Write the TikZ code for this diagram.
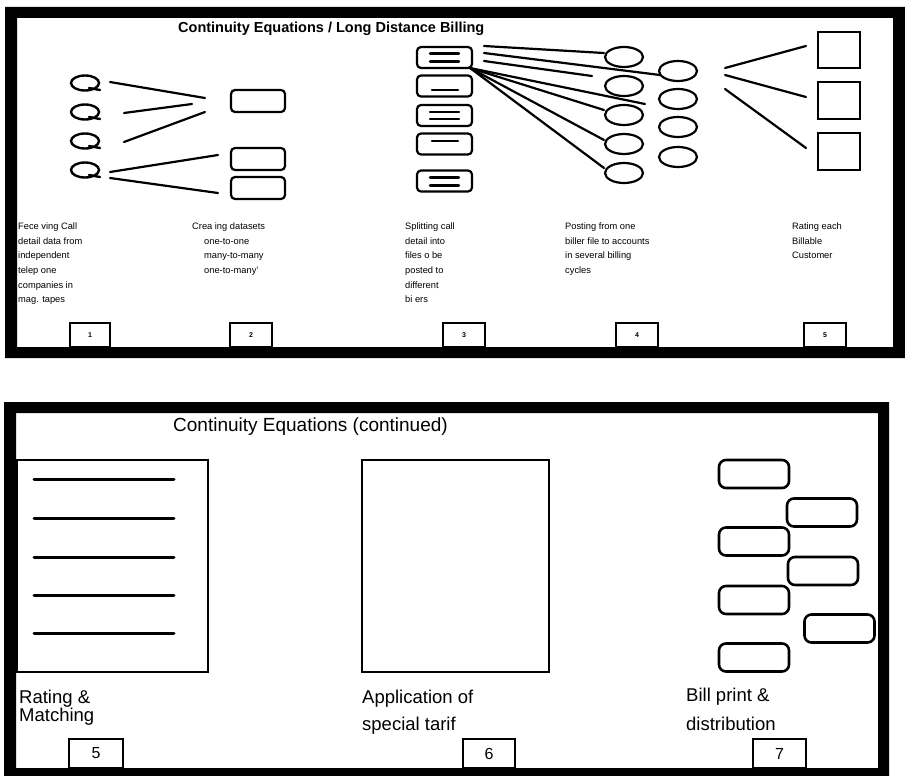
\documentclass[tikz,border=0pt]{standalone}
\usepackage{fontspec}
\setmainfont{Liberation Sans}
\usetikzlibrary{shapes.geometric}
\begin{document}
\begin{tikzpicture}[x=1pt,y=-1pt,
  lab/.style={font=\fontsize{9.3}{11}\selectfont, inner sep=0, anchor=base west},
  big/.style={font=\fontsize{18.5}{20}\selectfont, inner sep=0, anchor=base west},
  ln/.style={line width=2.2pt, line cap=round},
  thk/.style={line width=3pt, line cap=round},
  rbox/.style={draw, line width=2.2pt, rounded corners=4pt, minimum width=54pt, minimum height=22pt, inner sep=0},
  rbig/.style={draw, line width=2.6pt, rounded corners=7pt, minimum width=70pt, minimum height=28pt, inner sep=0},
  oval/.style={draw, ellipse, line width=2.2pt, minimum width=38pt, minimum height=20pt, inner sep=0},
  qov/.style={draw, ellipse, line width=2.4pt, minimum width=28pt, minimum height=15pt, inner sep=0},
  sq/.style={draw, line width=2pt, minimum width=42pt, minimum height=36pt, inner sep=0},
  numA/.style={draw, fill=white, line width=1.8pt, minimum height=24pt, inner sep=0, font=\fontsize{7}{8}\selectfont\bfseries},
  numB/.style={draw, fill=white, line width=2.2pt, minimum height=29pt, inner sep=0, font=\fontsize{16}{18}\selectfont},
  panelbox/.style={draw, line width=2.6pt, inner sep=0}
]
\useasboundingbox (0,0) rectangle (905,776);
\fill[white] (0,0) rectangle (905,776);

% ---------- top panel frame ----------
\fill[black, even odd rule] (5,7) rectangle (905,358) (17,18) rectangle (893,347);
\node[font=\fontsize{14.5}{16}\selectfont\bfseries, inner sep=0, anchor=base west] (t1) at (178,32.5) {Continuity Equations / Long Distance Billing};

% Q shapes
\foreach \y [count=\i] in {83,112,141,170} {
  \node[qov] (q\i) at (85,\y) {};
  \draw[line width=2.4pt, line cap=round] (89,\y+5) -- (100,\y+7);
}
% boxes stage 2
\node[rbox] (d1) at (258,101) {};
\node[rbox] (d2) at (258,159) {};
\node[rbox] (d3) at (258,188) {};
% connectors stage 1
\coordinate (a1) at (110,82);  \coordinate (b1) at (205,98);
\coordinate (a2) at (124,113); \coordinate (b2) at (192,104);
\coordinate (a3) at (124,142); \coordinate (b3) at (205,112);
\coordinate (a4) at (110,172); \coordinate (b4) at (218,155);
\coordinate (a5) at (110,178); \coordinate (b5) at (218,193);
\foreach \i in {1,...,5} \draw[ln] (a\i) -- (b\i);

% stage 3 boxes
\foreach \y [count=\i] in {57.5,86,115.5,144,181} \node[rbox, minimum width=55pt, minimum height=21pt] (m\i) at (444.5,\y) {};
\draw[ln] (430,53.5) -- (459,53.5); \draw[ln] (430,61.5) -- (459,61.5);
\draw[ln] (432,90) -- (458,90);
\draw[ln] (430,112) -- (459,112); \draw[ln] (430,119) -- (459,119);
\draw[ln] (432,141) -- (458,141);
\draw[ln] (430,177.5) -- (459,177.5); \draw[ln] (430,185.5) -- (459,185.5);

% stage 4 ellipses
\foreach \y [count=\i] in {57,86,115,144,173} \node[oval] (e\i) at (624,\y) {};
\foreach \y [count=\i] in {71,99,127,157} \node[oval] (f\i) at (678,\y) {};

% fan lines from first box
\coordinate (s1) at (484,46);  \coordinate (s2) at (484,53); \coordinate (s3) at (484,61);
\coordinate (s4) at (470,68);
\coordinate (g1) at (604,53); \coordinate (g2) at (660,75); \coordinate (g3) at (592,76);
\coordinate (g4) at (645,104); \coordinate (g5) at (604,110); \coordinate (g6) at (604,140); \coordinate (g7) at (604,168);
\draw[ln] (s1) -- (g1);
\draw[ln] (s2) -- (g2);
\draw[ln] (s3) -- (g3);
\foreach \i in {4,...,7} \draw[ln] (s4) -- (g\i);

% stage 5 squares
\node[sq] (r1) at (839,50) {};
\node[sq] (r2) at (839,100.5) {};
\node[sq, minimum height=37pt] (r3) at (839,151.5) {};
\coordinate (h1) at (725,68); \coordinate (k1) at (806,46);
\coordinate (h2) at (725,75); \coordinate (k2) at (806,97);
\coordinate (h3) at (725,89); \coordinate (k3) at (806,148);
\foreach \i in {1,2,3} \draw[ln] (h\i) -- (k\i);

% text columns
\foreach \t [count=\i] in {Fece ving Call, detail data from, independent, telep one, companies in, mag. tapes}
  \node[lab] (ta\i) at (18,{229.3+14.7*(\i-1)}) {\t};
\node[lab] (tb0) at (192,229.3) {Crea ing datasets};
\foreach \t [count=\i] in {one-to-one, many-to-many, one-to-many'}
  \node[lab] (tb\i) at (204,{229.3+14.7*\i}) {\t};
\foreach \t [count=\i] in {Splitting call, detail into, files o be, posted to, different, bi ers}
  \node[lab] (tc\i) at (405,{229.3+14.7*(\i-1)}) {\t};
\foreach \t [count=\i] in {Posting from one, biller file to accounts, in several billing, cycles}
  \node[lab] (td\i) at (565,{229.3+14.7*(\i-1)}) {\t};
\foreach \t [count=\i] in {Rating each, Billable, Customer}
  \node[lab] (te\i) at (792,{229.3+14.7*(\i-1)}) {\t};

% number boxes top
\node[numA, minimum width=40pt] (n1) at (90,335) {1};
\node[numA, minimum width=42pt] (n2) at (251,335) {2};
\node[numA, minimum width=42pt] (n3) at (464,335) {3};
\node[numA, minimum width=42pt] (n4) at (637,335) {4};
\node[numA, minimum width=42pt] (n5) at (825,335) {5};

% ---------- bottom panel frame ----------
\fill[black, even odd rule] (4,402) rectangle (889,776) (16,413) rectangle (878,768);
\node[font=\fontsize{19}{21}\selectfont, inner sep=0, anchor=base west] (t2) at (173,431.8) {Continuity Equations (continued)};

\node[panelbox, minimum width=191pt, minimum height=212pt] (p5) at (112.5,566) {};
\foreach \y [count=\i] in {479,518,557,595,633} \draw[thk] (34,\y) -- (174,\y);
\node[panelbox, minimum width=187pt, minimum height=212pt] (p6) at (455.5,566) {};

\node[rbig] (b1) at (754,474) {};
\node[rbig] (b2) at (822,512.5) {};
\node[rbig] (b3) at (754,541.5) {};
\node[rbig] (b4) at (823,571) {};
\node[rbig] (b5) at (754,600) {};
\node[rbig] (b6) at (839.5,628.5) {};
\node[rbig] (b7) at (754,657.5) {};
\coordinate (v1) at (787.5,562); \coordinate (v2) at (787.5,580);
\draw[line width=2pt] (v1) -- (v2);

\node[big] (l5a) at (19,703) {Rating \&};
\node[big] (l5b) at (19,721) {Matching};
\node[big] (l6a) at (362,703) {Application of};
\node[big] (l6b) at (362,730) {special tarif};
\node[big] (l7a) at (686,701) {Bill print \&};
\node[big] (l7b) at (686,730) {distribution};

\node[numB, minimum width=54pt] (o5) at (96,753.5) {5};
\node[numB, minimum width=52pt] (o6) at (489,753.5) {6};
\node[numB, minimum width=53pt] (o7) at (779.5,753.5) {7};
\end{tikzpicture}
\end{document}
